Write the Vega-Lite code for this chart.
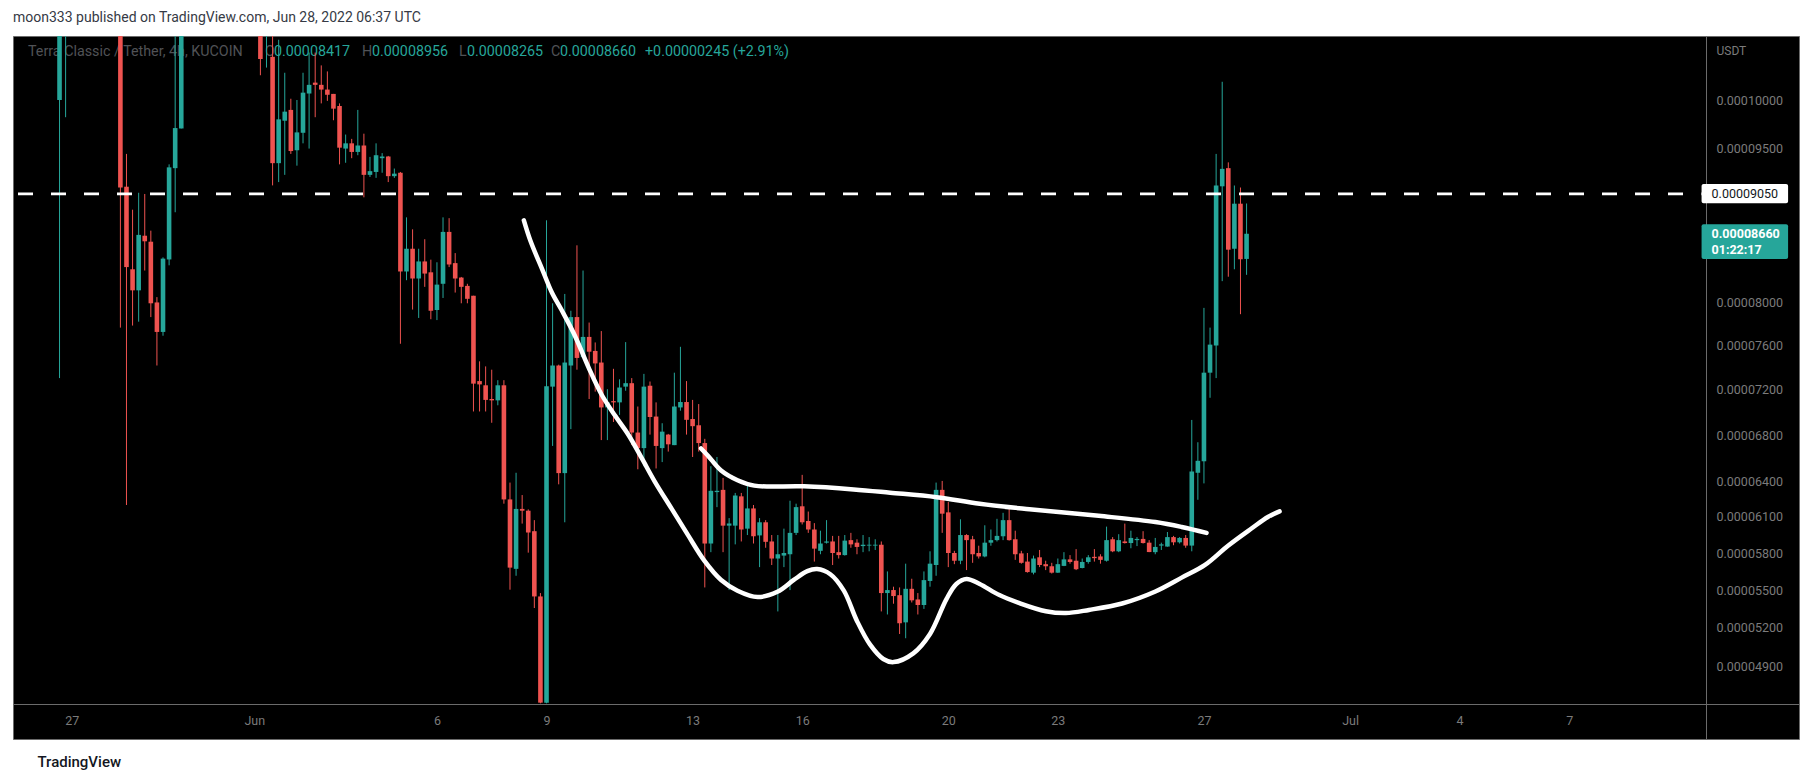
{
  "$schema": "https://vega.github.io/schema/vega-lite/v6.json",
  "width": 1786,
  "height": 703,
  "autosize": {"type": "none"},
  "padding": {"left": 13, "top": 36, "right": 14, "bottom": 44},
  "background": "#ffffff",
  "title": {
    "text": "moon333 published on TradingView.com, Jun 28, 2022 06:37 UTC",
    "anchor": "start",
    "frame": "group",
    "offset": 11,
    "font": "Roboto",
    "fontSize": 14,
    "fontWeight": "normal",
    "color": "#363a45"
  },
  "data": {"values": [{}]},
  "datasets": {
    "candles": [
      {"t":"2022-05-26T16:00:00Z","o":0.0001,"h":0.000125,"l":0.00007307,"c":0.000115},
      {"t":"2022-05-26T20:00:00Z","o":0.00011,"h":0.00012,"l":0.00009823,"c":0.000118},
      {"t":"2022-05-28T08:00:00Z","o":0.000115,"h":0.00012,"l":0.00007769,"c":0.00009114},
      {"t":"2022-05-28T12:00:00Z","o":0.00009122,"h":0.0000945,"l":0.00006199,"c":0.00008339},
      {"t":"2022-05-28T16:00:00Z","o":0.00008318,"h":0.00008895,"l":0.00007788,"c":0.00008118},
      {"t":"2022-05-28T20:00:00Z","o":0.00008118,"h":0.00009062,"l":0.00007824,"c":0.00008649},
      {"t":"2022-05-29T00:00:00Z","o":0.00008641,"h":0.0000905,"l":0.00008306,"c":0.00008587},
      {"t":"2022-05-29T04:00:00Z","o":0.00008583,"h":0.0000869,"l":0.00007867,"c":0.00007996},
      {"t":"2022-05-29T08:00:00Z","o":0.00008004,"h":0.00008054,"l":0.00007421,"c":0.00007729},
      {"t":"2022-05-29T12:00:00Z","o":0.00007729,"h":0.00008432,"l":0.00007694,"c":0.0000842},
      {"t":"2022-05-29T16:00:00Z","o":0.00008412,"h":0.00009345,"l":0.00008356,"c":0.00009315},
      {"t":"2022-05-29T20:00:00Z","o":0.00009307,"h":0.000108,"l":0.0000887,"c":0.00009712},
      {"t":"2022-05-30T00:00:00Z","o":0.00009708,"h":0.000112,"l":0.00009708,"c":0.000108},
      {"t":"2022-06-01T04:00:00Z","o":0.000108,"h":0.00011,"l":0.00010257,"c":0.00010427},
      {"t":"2022-06-01T08:00:00Z","o":0.0001075,"h":0.000111,"l":0.00010337,"c":0.000109},
      {"t":"2022-06-01T12:00:00Z","o":0.0001045,"h":0.000107,"l":0.00009135,"c":0.00009357},
      {"t":"2022-06-01T16:00:00Z","o":0.00009357,"h":0.0001063,"l":0.00009168,"c":0.00009801},
      {"t":"2022-06-01T20:00:00Z","o":0.00009787,"h":0.00010283,"l":0.0000924,"c":0.0000988},
      {"t":"2022-06-02T00:00:00Z","o":0.00009898,"h":0.00010013,"l":0.0000945,"c":0.00009479},
      {"t":"2022-06-02T04:00:00Z","o":0.00009487,"h":0.0001,"l":0.00009332,"c":0.00009668},
      {"t":"2022-06-02T08:00:00Z","o":0.00009664,"h":0.00010283,"l":0.00009557,"c":0.00010076},
      {"t":"2022-06-02T12:00:00Z","o":0.00010067,"h":0.00010495,"l":0.00009504,"c":0.00010157},
      {"t":"2022-06-02T16:00:00Z","o":0.0001018,"h":0.00010495,"l":0.00009823,"c":0.00010157},
      {"t":"2022-06-02T20:00:00Z","o":0.00010157,"h":0.0001036,"l":0.00009965,"c":0.00010108},
      {"t":"2022-06-03T00:00:00Z","o":0.00010108,"h":0.00010297,"l":0.00009991,"c":0.00010054},
      {"t":"2022-06-03T04:00:00Z","o":0.00010063,"h":0.00010063,"l":0.00009792,"c":0.00009911},
      {"t":"2022-06-03T08:00:00Z","o":0.00009938,"h":0.00009965,"l":0.00009345,"c":0.00009513},
      {"t":"2022-06-03T12:00:00Z","o":0.00009504,"h":0.00009646,"l":0.00009361,"c":0.00009557},
      {"t":"2022-06-03T16:00:00Z","o":0.00009557,"h":0.00009602,"l":0.00009407,"c":0.0000947},
      {"t":"2022-06-03T20:00:00Z","o":0.0000947,"h":0.00009898,"l":0.00009437,"c":0.00009535},
      {"t":"2022-06-04T00:00:00Z","o":0.00009535,"h":0.00009655,"l":0.00009017,"c":0.0000924},
      {"t":"2022-06-04T04:00:00Z","o":0.0000924,"h":0.0000942,"l":0.00009219,"c":0.00009277},
      {"t":"2022-06-04T08:00:00Z","o":0.00009269,"h":0.00009557,"l":0.0000921,"c":0.00009437},
      {"t":"2022-06-04T12:00:00Z","o":0.00009407,"h":0.00009458,"l":0.00009261,"c":0.00009424},
      {"t":"2022-06-04T16:00:00Z","o":0.00009424,"h":0.0000943,"l":0.00009168,"c":0.00009227},
      {"t":"2022-06-04T20:00:00Z","o":0.00009227,"h":0.00009303,"l":0.0000921,"c":0.00009252},
      {"t":"2022-06-05T00:00:00Z","o":0.00009261,"h":0.00009269,"l":0.0000762,"c":0.00008297},
      {"t":"2022-06-05T04:00:00Z","o":0.00008297,"h":0.0000882,"l":0.00008214,"c":0.00008515},
      {"t":"2022-06-05T08:00:00Z","o":0.00008515,"h":0.00008703,"l":0.00007937,"c":0.0000823},
      {"t":"2022-06-05T12:00:00Z","o":0.0000823,"h":0.00008515,"l":0.00007859,"c":0.00008393},
      {"t":"2022-06-05T16:00:00Z","o":0.00008393,"h":0.00008607,"l":0.00008151,"c":0.00008277},
      {"t":"2022-06-05T20:00:00Z","o":0.00008289,"h":0.0000841,"l":0.00007847,"c":0.00007926},
      {"t":"2022-06-06T00:00:00Z","o":0.00007933,"h":0.00008385,"l":0.00007839,"c":0.00008172},
      {"t":"2022-06-06T04:00:00Z","o":0.0000818,"h":0.0000882,"l":0.00008046,"c":0.00008678},
      {"t":"2022-06-06T08:00:00Z","o":0.00008678,"h":0.00008812,"l":0.00008339,"c":0.00008364},
      {"t":"2022-06-06T12:00:00Z","o":0.00008377,"h":0.00008473,"l":0.00008097,"c":0.0000823},
      {"t":"2022-06-06T16:00:00Z","o":0.00008239,"h":0.00008245,"l":0.00007996,"c":0.00008151},
      {"t":"2022-06-06T20:00:00Z","o":0.0000816,"h":0.0000818,"l":0.00007996,"c":0.00008038},
      {"t":"2022-06-07T00:00:00Z","o":0.00008067,"h":0.00008067,"l":0.00007008,"c":0.00007257},
      {"t":"2022-06-07T04:00:00Z","o":0.0000728,"h":0.00007459,"l":0.00007008,"c":0.0000725},
      {"t":"2022-06-07T08:00:00Z","o":0.00007242,"h":0.00007413,"l":0.00007008,"c":0.00007111},
      {"t":"2022-06-07T12:00:00Z","o":0.00007119,"h":0.00007383,"l":0.00006908,"c":0.00007107},
      {"t":"2022-06-07T16:00:00Z","o":0.00007107,"h":0.00007288,"l":0.00007063,"c":0.00007242},
      {"t":"2022-06-07T20:00:00Z","o":0.00007242,"h":0.00007288,"l":0.0000621,"c":0.00006246},
      {"t":"2022-06-08T00:00:00Z","o":0.00006246,"h":0.00006389,"l":0.00005503,"c":0.00005681},
      {"t":"2022-06-08T04:00:00Z","o":0.00005671,"h":0.00006473,"l":0.00005615,"c":0.00006166},
      {"t":"2022-06-08T08:00:00Z","o":0.00006166,"h":0.00006283,"l":0.00006043,"c":0.00006151},
      {"t":"2022-06-08T12:00:00Z","o":0.00006151,"h":0.00006162,"l":0.00005803,"c":0.00005969},
      {"t":"2022-06-08T16:00:00Z","o":0.0000598,"h":0.00006072,"l":0.00005357,"c":0.00005449},
      {"t":"2022-06-08T20:00:00Z","o":0.00005449,"h":0.00005476,"l":0.00004625,"c":0.0000463},
      {"t":"2022-06-09T00:00:00Z","o":0.0000463,"h":0.00008791,"l":0.00004625,"c":0.00007234},
      {"t":"2022-06-09T04:00:00Z","o":0.0000723,"h":0.00007996,"l":0.00006705,"c":0.00007421},
      {"t":"2022-06-09T08:00:00Z","o":0.00007421,"h":0.00007429,"l":0.00006374,"c":0.0000647},
      {"t":"2022-06-09T12:00:00Z","o":0.0000647,"h":0.00008084,"l":0.00006054,"c":0.00007448},
      {"t":"2022-06-09T16:00:00Z","o":0.00007421,"h":0.00007926,"l":0.00006852,"c":0.00007867},
      {"t":"2022-06-09T20:00:00Z","o":0.00007867,"h":0.00008548,"l":0.00007383,"c":0.0000749},
      {"t":"2022-06-10T00:00:00Z","o":0.00007497,"h":0.00008306,"l":0.0000749,"c":0.00007683},
      {"t":"2022-06-10T04:00:00Z","o":0.00007683,"h":0.00007816,"l":0.00007119,"c":0.00007547},
      {"t":"2022-06-10T08:00:00Z","o":0.00007554,"h":0.00007632,"l":0.00007185,"c":0.0000744},
      {"t":"2022-06-10T12:00:00Z","o":0.00007448,"h":0.00007737,"l":0.00006756,"c":0.00007044},
      {"t":"2022-06-10T16:00:00Z","o":0.00007044,"h":0.00007207,"l":0.00006756,"c":0.00007089},
      {"t":"2022-06-10T20:00:00Z","o":0.000071,"h":0.00007391,"l":0.00006915,"c":0.00007089},
      {"t":"2022-06-11T00:00:00Z","o":0.00007089,"h":0.00007296,"l":0.00006978,"c":0.00007222},
      {"t":"2022-06-11T04:00:00Z","o":0.0000723,"h":0.00007635,"l":0.00007193,"c":0.00007261},
      {"t":"2022-06-11T08:00:00Z","o":0.00007261,"h":0.00007307,"l":0.00006712,"c":0.00006822},
      {"t":"2022-06-11T12:00:00Z","o":0.00006822,"h":0.00007052,"l":0.00006503,"c":0.00006686},
      {"t":"2022-06-11T16:00:00Z","o":0.00006686,"h":0.00007345,"l":0.00006529,"c":0.0000723},
      {"t":"2022-06-11T20:00:00Z","o":0.00007238,"h":0.00007276,"l":0.00006804,"c":0.00006959},
      {"t":"2022-06-12T00:00:00Z","o":0.00006963,"h":0.00007089,"l":0.0000651,"c":0.00006705},
      {"t":"2022-06-12T04:00:00Z","o":0.00006686,"h":0.00006904,"l":0.00006565,"c":0.0000683},
      {"t":"2022-06-12T08:00:00Z","o":0.00006804,"h":0.0000681,"l":0.00006656,"c":0.00006719},
      {"t":"2022-06-12T12:00:00Z","o":0.00006712,"h":0.00007356,"l":0.00006712,"c":0.00007052},
      {"t":"2022-06-12T16:00:00Z","o":0.00007044,"h":0.00007592,"l":0.00007015,"c":0.00007092},
      {"t":"2022-06-12T20:00:00Z","o":0.00007092,"h":0.0000728,"l":0.00006804,"c":0.00006934},
      {"t":"2022-06-13T00:00:00Z","o":0.00006941,"h":0.00007111,"l":0.00006609,"c":0.00006878},
      {"t":"2022-06-13T04:00:00Z","o":0.00006886,"h":0.00007074,"l":0.00006656,"c":0.0000673},
      {"t":"2022-06-13T08:00:00Z","o":0.0000673,"h":0.00006767,"l":0.00005521,"c":0.00005878},
      {"t":"2022-06-13T12:00:00Z","o":0.00005878,"h":0.00006529,"l":0.00005807,"c":0.00006319},
      {"t":"2022-06-13T16:00:00Z","o":0.00006308,"h":0.00006609,"l":0.00006181,"c":0.00006319},
      {"t":"2022-06-13T20:00:00Z","o":0.00006327,"h":0.00006429,"l":0.00005807,"c":0.00006026},
      {"t":"2022-06-14T00:00:00Z","o":0.00006026,"h":0.00006089,"l":0.000055,"c":0.00006044},
      {"t":"2022-06-14T04:00:00Z","o":0.00006026,"h":0.00006301,"l":0.00005871,"c":0.00006279},
      {"t":"2022-06-14T08:00:00Z","o":0.00006272,"h":0.00006301,"l":0.00005895,"c":0.00005994},
      {"t":"2022-06-14T12:00:00Z","o":0.00006001,"h":0.00006392,"l":0.00005948,"c":0.0000617},
      {"t":"2022-06-14T16:00:00Z","o":0.0000617,"h":0.00006199,"l":0.00005878,"c":0.00005938},
      {"t":"2022-06-14T20:00:00Z","o":0.00005945,"h":0.00006089,"l":0.00005685,"c":0.00006054},
      {"t":"2022-06-15T00:00:00Z","o":0.00006054,"h":0.00006072,"l":0.00005843,"c":0.00005892},
      {"t":"2022-06-15T04:00:00Z","o":0.00005895,"h":0.00005948,"l":0.00005702,"c":0.00005755},
      {"t":"2022-06-15T08:00:00Z","o":0.00005755,"h":0.00005948,"l":0.0000533,"c":0.0000579},
      {"t":"2022-06-15T12:00:00Z","o":0.00005779,"h":0.00006001,"l":0.00005685,"c":0.000058},
      {"t":"2022-06-15T16:00:00Z","o":0.0000579,"h":0.00006235,"l":0.000055,"c":0.00005966},
      {"t":"2022-06-15T20:00:00Z","o":0.00005966,"h":0.0000621,"l":0.00005948,"c":0.00006181},
      {"t":"2022-06-16T00:00:00Z","o":0.00006188,"h":0.00006455,"l":0.00006036,"c":0.00006054},
      {"t":"2022-06-16T04:00:00Z","o":0.00006065,"h":0.00006144,"l":0.00005966,"c":0.00005994},
      {"t":"2022-06-16T08:00:00Z","o":0.00005994,"h":0.00006047,"l":0.0000573,"c":0.00005836},
      {"t":"2022-06-16T12:00:00Z","o":0.00005818,"h":0.00005984,"l":0.0000579,"c":0.00005878},
      {"t":"2022-06-16T16:00:00Z","o":0.00005885,"h":0.00006072,"l":0.00005878,"c":0.00005895},
      {"t":"2022-06-16T20:00:00Z","o":0.00005895,"h":0.00005941,"l":0.00005702,"c":0.000058},
      {"t":"2022-06-17T00:00:00Z","o":0.00005807,"h":0.00005941,"l":0.00005755,"c":0.00005783},
      {"t":"2022-06-17T04:00:00Z","o":0.00005783,"h":0.00005948,"l":0.00005779,"c":0.00005902},
      {"t":"2022-06-17T08:00:00Z","o":0.00005906,"h":0.00005966,"l":0.00005843,"c":0.00005871},
      {"t":"2022-06-17T12:00:00Z","o":0.00005885,"h":0.00005913,"l":0.0000579,"c":0.0000585},
      {"t":"2022-06-17T16:00:00Z","o":0.00005857,"h":0.00005948,"l":0.00005807,"c":0.00005868},
      {"t":"2022-06-17T20:00:00Z","o":0.00005861,"h":0.00005931,"l":0.00005814,"c":0.00005868},
      {"t":"2022-06-18T00:00:00Z","o":0.00005861,"h":0.00005913,"l":0.00005825,"c":0.00005868},
      {"t":"2022-06-18T04:00:00Z","o":0.00005868,"h":0.00005895,"l":0.0000533,"c":0.00005476},
      {"t":"2022-06-18T08:00:00Z","o":0.00005476,"h":0.0000565,"l":0.00005306,"c":0.000055},
      {"t":"2022-06-18T12:00:00Z","o":0.000055,"h":0.00005527,"l":0.00005391,"c":0.00005452},
      {"t":"2022-06-18T16:00:00Z","o":0.00005459,"h":0.00005521,"l":0.00005153,"c":0.00005237},
      {"t":"2022-06-18T20:00:00Z","o":0.00005244,"h":0.00005713,"l":0.0000512,"c":0.0000551},
      {"t":"2022-06-19T00:00:00Z","o":0.0000551,"h":0.00005591,"l":0.00005401,"c":0.00005418},
      {"t":"2022-06-19T04:00:00Z","o":0.00005425,"h":0.00005476,"l":0.00005306,"c":0.00005381},
      {"t":"2022-06-19T08:00:00Z","o":0.00005381,"h":0.0000565,"l":0.0000535,"c":0.0000558},
      {"t":"2022-06-19T12:00:00Z","o":0.00005573,"h":0.00005814,"l":0.00005527,"c":0.00005713},
      {"t":"2022-06-19T16:00:00Z","o":0.00005702,"h":0.00006389,"l":0.00005615,"c":0.00006327},
      {"t":"2022-06-19T20:00:00Z","o":0.00006327,"h":0.00006403,"l":0.00005966,"c":0.00006126},
      {"t":"2022-06-20T00:00:00Z","o":0.00006137,"h":0.00006224,"l":0.00005685,"c":0.000058},
      {"t":"2022-06-20T04:00:00Z","o":0.000058,"h":0.00005818,"l":0.00005709,"c":0.00005737},
      {"t":"2022-06-20T08:00:00Z","o":0.00005737,"h":0.00006079,"l":0.00005709,"c":0.00005948},
      {"t":"2022-06-20T12:00:00Z","o":0.00005948,"h":0.00005955,"l":0.00005661,"c":0.00005906},
      {"t":"2022-06-20T16:00:00Z","o":0.00005913,"h":0.00005941,"l":0.0000572,"c":0.0000579},
      {"t":"2022-06-20T20:00:00Z","o":0.000058,"h":0.0000586,"l":0.00005755,"c":0.00005772},
      {"t":"2022-06-21T00:00:00Z","o":0.00005772,"h":0.00006029,"l":0.00005765,"c":0.00005885},
      {"t":"2022-06-21T04:00:00Z","o":0.00005885,"h":0.00005994,"l":0.0000586,"c":0.00005906},
      {"t":"2022-06-21T08:00:00Z","o":0.00005906,"h":0.00006083,"l":0.00005895,"c":0.00005941},
      {"t":"2022-06-21T12:00:00Z","o":0.00005938,"h":0.00006133,"l":0.00005906,"c":0.00006072},
      {"t":"2022-06-21T16:00:00Z","o":0.00006072,"h":0.00006173,"l":0.00005902,"c":0.00005906},
      {"t":"2022-06-21T20:00:00Z","o":0.00005913,"h":0.00005984,"l":0.00005744,"c":0.0000579},
      {"t":"2022-06-22T00:00:00Z","o":0.00005797,"h":0.00005818,"l":0.00005713,"c":0.0000572},
      {"t":"2022-06-22T04:00:00Z","o":0.0000573,"h":0.000058,"l":0.0000564,"c":0.00005645},
      {"t":"2022-06-22T08:00:00Z","o":0.0000564,"h":0.00005779,"l":0.00005626,"c":0.00005755},
      {"t":"2022-06-22T12:00:00Z","o":0.00005765,"h":0.00005825,"l":0.00005685,"c":0.00005702},
      {"t":"2022-06-22T16:00:00Z","o":0.00005709,"h":0.00005737,"l":0.00005661,"c":0.00005692},
      {"t":"2022-06-22T20:00:00Z","o":0.00005692,"h":0.0000572,"l":0.00005633,"c":0.0000564},
      {"t":"2022-06-23T00:00:00Z","o":0.0000564,"h":0.00005755,"l":0.00005638,"c":0.00005709},
      {"t":"2022-06-23T04:00:00Z","o":0.00005695,"h":0.00005807,"l":0.00005693,"c":0.00005748},
      {"t":"2022-06-23T08:00:00Z","o":0.00005748,"h":0.00005783,"l":0.00005713,"c":0.00005727},
      {"t":"2022-06-23T12:00:00Z","o":0.00005737,"h":0.00005832,"l":0.00005661,"c":0.00005668},
      {"t":"2022-06-23T16:00:00Z","o":0.00005678,"h":0.00005755,"l":0.00005675,"c":0.00005727},
      {"t":"2022-06-23T20:00:00Z","o":0.00005727,"h":0.00005783,"l":0.00005713,"c":0.00005765},
      {"t":"2022-06-24T00:00:00Z","o":0.00005769,"h":0.00005832,"l":0.0000573,"c":0.00005758},
      {"t":"2022-06-24T04:00:00Z","o":0.00005772,"h":0.0000579,"l":0.00005713,"c":0.00005744},
      {"t":"2022-06-24T08:00:00Z","o":0.00005737,"h":0.00006018,"l":0.0000573,"c":0.00005906},
      {"t":"2022-06-24T12:00:00Z","o":0.00005913,"h":0.00005931,"l":0.00005807,"c":0.00005814},
      {"t":"2022-06-24T16:00:00Z","o":0.00005814,"h":0.00005955,"l":0.00005807,"c":0.00005906},
      {"t":"2022-06-24T20:00:00Z","o":0.00005895,"h":0.00006043,"l":0.00005878,"c":0.00005882},
      {"t":"2022-06-25T00:00:00Z","o":0.00005882,"h":0.00005984,"l":0.00005839,"c":0.00005924},
      {"t":"2022-06-25T04:00:00Z","o":0.00005906,"h":0.00005931,"l":0.00005857,"c":0.00005916},
      {"t":"2022-06-25T08:00:00Z","o":0.00005916,"h":0.0000598,"l":0.00005878,"c":0.00005882},
      {"t":"2022-06-25T12:00:00Z","o":0.00005885,"h":0.00005906,"l":0.00005807,"c":0.00005808},
      {"t":"2022-06-25T16:00:00Z","o":0.00005807,"h":0.00005924,"l":0.0000579,"c":0.0000585},
      {"t":"2022-06-25T20:00:00Z","o":0.00005861,"h":0.00005885,"l":0.00005825,"c":0.00005871},
      {"t":"2022-06-26T00:00:00Z","o":0.00005853,"h":0.00005973,"l":0.00005852,"c":0.00005931},
      {"t":"2022-06-26T04:00:00Z","o":0.00005931,"h":0.00005941,"l":0.00005864,"c":0.00005888},
      {"t":"2022-06-26T08:00:00Z","o":0.00005888,"h":0.00005931,"l":0.00005878,"c":0.00005924},
      {"t":"2022-06-26T12:00:00Z","o":0.00005924,"h":0.00005948,"l":0.00005843,"c":0.00005861},
      {"t":"2022-06-26T16:00:00Z","o":0.00005861,"h":0.00006933,"l":0.00005814,"c":0.00006484},
      {"t":"2022-06-26T20:00:00Z","o":0.00006473,"h":0.00006737,"l":0.00006243,"c":0.00006576},
      {"t":"2022-06-27T00:00:00Z","o":0.00006572,"h":0.00007953,"l":0.00006382,"c":0.00007356},
      {"t":"2022-06-27T04:00:00Z","o":0.00007356,"h":0.00007769,"l":0.0000713,"c":0.00007612},
      {"t":"2022-06-27T08:00:00Z","o":0.00007604,"h":0.0000945,"l":0.00007307,"c":0.00009134},
      {"t":"2022-06-27T12:00:00Z","o":0.00009126,"h":0.00010189,"l":0.00008205,"c":0.000093},
      {"t":"2022-06-27T16:00:00Z","o":0.00009307,"h":0.00009365,"l":0.00008247,"c":0.00008506},
      {"t":"2022-06-27T20:00:00Z","o":0.00008515,"h":0.00009134,"l":0.00008318,"c":0.00008954},
      {"t":"2022-06-28T00:00:00Z","o":0.00008954,"h":0.00009114,"l":0.00007894,"c":0.00008414},
      {"t":"2022-06-28T04:00:00Z","o":0.00008417,"h":0.00008956,"l":0.00008265,"c":0.0000866}
    ],
    "cup": [
      {"t":"2022-06-08T09:07:00Z","p":0.00008791},
      {"t":"2022-06-08T13:26:00Z","p":0.00008592},
      {"t":"2022-06-08T21:07:00Z","p":0.00008319},
      {"t":"2022-06-09T03:36:00Z","p":0.00008095},
      {"t":"2022-06-09T10:05:00Z","p":0.00007928},
      {"t":"2022-06-09T18:43:00Z","p":0.00007692},
      {"t":"2022-06-10T03:36:00Z","p":0.00007404},
      {"t":"2022-06-10T12:14:00Z","p":0.00007157},
      {"t":"2022-06-10T20:53:00Z","p":0.00006974},
      {"t":"2022-06-11T05:46:00Z","p":0.00006803},
      {"t":"2022-06-11T14:24:00Z","p":0.00006603},
      {"t":"2022-06-11T23:02:00Z","p":0.000064},
      {"t":"2022-06-12T10:05:00Z","p":0.0000617},
      {"t":"2022-06-12T20:53:00Z","p":0.00005949},
      {"t":"2022-06-13T07:41:00Z","p":0.00005738},
      {"t":"2022-06-13T18:43:00Z","p":0.00005581},
      {"t":"2022-06-14T05:31:00Z","p":0.00005495},
      {"t":"2022-06-14T18:43:00Z","p":0.00005444},
      {"t":"2022-06-15T07:41:00Z","p":0.00005486},
      {"t":"2022-06-15T18:29:00Z","p":0.00005581},
      {"t":"2022-06-16T03:22:00Z","p":0.00005652},
      {"t":"2022-06-16T09:50:00Z","p":0.00005669},
      {"t":"2022-06-16T18:29:00Z","p":0.00005627},
      {"t":"2022-06-17T03:22:00Z","p":0.00005495},
      {"t":"2022-06-17T12:00:00Z","p":0.00005255},
      {"t":"2022-06-17T20:38:00Z","p":0.0000507},
      {"t":"2022-06-18T05:17:00Z","p":0.0000496},
      {"t":"2022-06-18T12:00:00Z","p":0.00004936},
      {"t":"2022-06-19T01:00:00Z","p":0.00005003},
      {"t":"2022-06-19T12:00:00Z","p":0.00005153},
      {"t":"2022-06-19T22:48:00Z","p":0.00005428},
      {"t":"2022-06-20T05:17:00Z","p":0.00005549},
      {"t":"2022-06-20T12:00:00Z","p":0.00005589},
      {"t":"2022-06-20T20:38:00Z","p":0.00005549},
      {"t":"2022-06-21T09:36:00Z","p":0.0000546},
      {"t":"2022-06-21T22:48:00Z","p":0.00005396},
      {"t":"2022-06-22T16:05:00Z","p":0.00005332},
      {"t":"2022-06-23T05:17:00Z","p":0.00005317},
      {"t":"2022-06-23T20:24:00Z","p":0.00005342},
      {"t":"2022-06-24T18:14:00Z","p":0.00005393},
      {"t":"2022-06-25T16:05:00Z","p":0.00005489},
      {"t":"2022-06-26T09:22:00Z","p":0.000056},
      {"t":"2022-06-27T00:43:00Z","p":0.00005703},
      {"t":"2022-06-27T15:50:00Z","p":0.0000586},
      {"t":"2022-06-28T07:12:00Z","p":0.00006002},
      {"t":"2022-06-28T18:00:00Z","p":0.00006098},
      {"t":"2022-06-29T01:41:00Z","p":0.00006145}
    ],
    "handle": [
      {"t":"2022-06-13T05:31:00Z","p":0.00006683},
      {"t":"2022-06-13T10:05:00Z","p":0.0000662},
      {"t":"2022-06-13T18:43:00Z","p":0.00006492},
      {"t":"2022-06-14T05:31:00Z","p":0.00006409},
      {"t":"2022-06-14T16:34:00Z","p":0.00006363},
      {"t":"2022-06-16T01:12:00Z","p":0.00006357},
      {"t":"2022-06-17T09:50:00Z","p":0.00006331},
      {"t":"2022-06-18T09:50:00Z","p":0.00006303},
      {"t":"2022-06-19T16:19:00Z","p":0.00006265},
      {"t":"2022-06-20T20:38:00Z","p":0.00006209},
      {"t":"2022-06-22T05:17:00Z","p":0.00006163},
      {"t":"2022-06-24T02:53:00Z","p":0.00006108},
      {"t":"2022-06-25T16:05:00Z","p":0.00006056},
      {"t":"2022-06-26T09:22:00Z","p":0.00006015},
      {"t":"2022-06-27T01:41:00Z","p":0.00005966}
    ]
  },
  "layer": [
    {
      "data": {"name": "candles"},
      "mark": {"type": "rule", "strokeWidth": 0, "opacity": 0, "clip": true},
      "encoding": {
        "x": {
          "field": "t",
          "type": "temporal",
          "scale": {
            "type": "utc",
            "domain": [
              {"year": 2022, "month": 5, "date": 25, "hours": 12, "minutes": 43, "utc": true},
              {"year": 2022, "month": 7, "date": 13, "hours": 3, "minutes": 43, "utc": true}
            ]
          },
          "axis": {
            "orient": "bottom",
            "offset": -35,
            "values": [
              {"year": 2022, "month": 5, "date": 27, "utc": true},
              {"year": 2022, "month": 6, "date": 1, "utc": true},
              {"year": 2022, "month": 6, "date": 6, "utc": true},
              {"year": 2022, "month": 6, "date": 9, "utc": true},
              {"year": 2022, "month": 6, "date": 13, "utc": true},
              {"year": 2022, "month": 6, "date": 16, "utc": true},
              {"year": 2022, "month": 6, "date": 20, "utc": true},
              {"year": 2022, "month": 6, "date": 23, "utc": true},
              {"year": 2022, "month": 6, "date": 27, "utc": true},
              {"year": 2022, "month": 7, "date": 1, "utc": true},
              {"year": 2022, "month": 7, "date": 4, "utc": true},
              {"year": 2022, "month": 7, "date": 7, "utc": true}
            ],
            "labelExpr": "utcdate(datum.value) == 1 ? utcFormat(datum.value, '%b') : utcFormat(datum.value, '%-d')",
            "ticks": false,
            "grid": false,
            "labelPadding": 10,
            "labelFlush": false,
            "labelOverlap": false,
            "labelColor": "#7b7b7b",
            "labelFont": "Roboto",
            "labelFontSize": 12.5,
            "domainColor": "#6b6b6b",
            "domainWidth": 1,
            "title": "TradingView",
            "titleAnchor": "start",
            "titleAlign": "left",
            "titleBaseline": "middle",
            "titleX": 24,
            "titleY": 57,
            "titleColor": "#131722",
            "titleFont": "Roboto",
            "titleFontSize": 15,
            "titleFontWeight": 500
          }
        },
        "y": {
          "field": "l",
          "type": "quantitative",
          "scale": {"type": "pow", "exponent": 0.575, "domain": [0.00004363, 0.0001067], "nice": false, "zero": false},
          "axis": {
            "orient": "right",
            "offset": -93,
            "values": [0.0001, 0.000095, 0.00008, 0.000076, 0.000072, 0.000068, 0.000064, 0.000061, 0.000058, 0.000055, 0.000052, 0.000049],
            "format": ".8f",
            "ticks": false,
            "grid": false,
            "labelAlign": "left",
            "labelPadding": 10,
            "labelOverlap": false,
            "labelFlush": false,
            "labelColor": "#7b7b7b",
            "labelFont": "Roboto",
            "labelFontSize": 12.5,
            "domainColor": "#6b6b6b",
            "domainWidth": 1,
            "title": "USDT",
            "titleAngle": 0,
            "titleAlign": "left",
            "titleBaseline": "middle",
            "titleX": 10,
            "titleY": 14,
            "titleColor": "#7b7b7b",
            "titleFont": "Roboto",
            "titleFontSize": 12,
            "titleFontWeight": "normal"
          }
        },
        "y2": {"field": "h"}
      }
    },
    {
      "mark": {"type": "text", "text": "Terra Classic / Tether, 4h, KUCOIN", "align": "left", "baseline": "middle", "dx": 10, "font": "Roboto", "fontSize": 14.3, "color": "#505256"},
      "encoding": {
        "x": {"datum": {"year": 2022, "month": 5, "date": 25, "hours": 12, "minutes": 43, "utc": true}, "type": "temporal"},
        "y": {"datum": 0.000105, "type": "quantitative"}
      }
    },
    {
      "mark": {"type": "text", "text": "O", "align": "left", "baseline": "middle", "dx": 247, "font": "Roboto", "fontSize": 14.3, "color": "#505256"},
      "encoding": {
        "x": {"datum": {"year": 2022, "month": 5, "date": 25, "hours": 12, "minutes": 43, "utc": true}, "type": "temporal"},
        "y": {"datum": 0.000105, "type": "quantitative"}
      }
    },
    {
      "mark": {"type": "text", "text": "0.00008417", "align": "left", "baseline": "middle", "dx": 256, "font": "Roboto", "fontSize": 14.3, "color": "#26a69a"},
      "encoding": {
        "x": {"datum": {"year": 2022, "month": 5, "date": 25, "hours": 12, "minutes": 43, "utc": true}, "type": "temporal"},
        "y": {"datum": 0.000105, "type": "quantitative"}
      }
    },
    {
      "mark": {"type": "text", "text": "H", "align": "left", "baseline": "middle", "dx": 344, "font": "Roboto", "fontSize": 14.3, "color": "#505256"},
      "encoding": {
        "x": {"datum": {"year": 2022, "month": 5, "date": 25, "hours": 12, "minutes": 43, "utc": true}, "type": "temporal"},
        "y": {"datum": 0.000105, "type": "quantitative"}
      }
    },
    {
      "mark": {"type": "text", "text": "0.00008956", "align": "left", "baseline": "middle", "dx": 354, "font": "Roboto", "fontSize": 14.3, "color": "#26a69a"},
      "encoding": {
        "x": {"datum": {"year": 2022, "month": 5, "date": 25, "hours": 12, "minutes": 43, "utc": true}, "type": "temporal"},
        "y": {"datum": 0.000105, "type": "quantitative"}
      }
    },
    {
      "mark": {"type": "text", "text": "L", "align": "left", "baseline": "middle", "dx": 441, "font": "Roboto", "fontSize": 14.3, "color": "#505256"},
      "encoding": {
        "x": {"datum": {"year": 2022, "month": 5, "date": 25, "hours": 12, "minutes": 43, "utc": true}, "type": "temporal"},
        "y": {"datum": 0.000105, "type": "quantitative"}
      }
    },
    {
      "mark": {"type": "text", "text": "0.00008265", "align": "left", "baseline": "middle", "dx": 449, "font": "Roboto", "fontSize": 14.3, "color": "#26a69a"},
      "encoding": {
        "x": {"datum": {"year": 2022, "month": 5, "date": 25, "hours": 12, "minutes": 43, "utc": true}, "type": "temporal"},
        "y": {"datum": 0.000105, "type": "quantitative"}
      }
    },
    {
      "mark": {"type": "text", "text": "C", "align": "left", "baseline": "middle", "dx": 533, "font": "Roboto", "fontSize": 14.3, "color": "#505256"},
      "encoding": {
        "x": {"datum": {"year": 2022, "month": 5, "date": 25, "hours": 12, "minutes": 43, "utc": true}, "type": "temporal"},
        "y": {"datum": 0.000105, "type": "quantitative"}
      }
    },
    {
      "mark": {"type": "text", "text": "0.00008660", "align": "left", "baseline": "middle", "dx": 542, "font": "Roboto", "fontSize": 14.3, "color": "#26a69a"},
      "encoding": {
        "x": {"datum": {"year": 2022, "month": 5, "date": 25, "hours": 12, "minutes": 43, "utc": true}, "type": "temporal"},
        "y": {"datum": 0.000105, "type": "quantitative"}
      }
    },
    {
      "mark": {"type": "text", "text": "+0.00000245 (+2.91%)", "align": "left", "baseline": "middle", "dx": 627, "font": "Roboto", "fontSize": 14.3, "color": "#26a69a"},
      "encoding": {
        "x": {"datum": {"year": 2022, "month": 5, "date": 25, "hours": 12, "minutes": 43, "utc": true}, "type": "temporal"},
        "y": {"datum": 0.000105, "type": "quantitative"}
      }
    },
    {
      "data": {"name": "candles"},
      "mark": {"type": "rule", "strokeWidth": 1, "clip": true},
      "encoding": {
        "x": {"field": "t", "type": "temporal"},
        "y": {"field": "l", "type": "quantitative"},
        "y2": {"field": "h"},
        "color": {"condition": {"test": "datum.c >= datum.o", "value": "#26a69a"}, "value": "#ef5350"}
      }
    },
    {
      "data": {"name": "candles"},
      "mark": {"type": "bar", "width": 4.6, "clip": true},
      "encoding": {
        "x": {"field": "t", "type": "temporal"},
        "y": {"field": "o", "type": "quantitative"},
        "y2": {"field": "c"},
        "color": {"condition": {"test": "datum.c >= datum.o", "value": "#26a69a"}, "value": "#ef5350"}
      }
    },
    {
      "data": {"name": "cup"},
      "mark": {"type": "line", "color": "#ffffff", "strokeWidth": 4.5, "strokeCap": "round", "interpolate": "catmull-rom"},
      "encoding": {
        "x": {"field": "t", "type": "temporal"},
        "y": {"field": "p", "type": "quantitative"}
      }
    },
    {
      "data": {"name": "handle"},
      "mark": {"type": "line", "color": "#ffffff", "strokeWidth": 4.5, "strokeCap": "round", "interpolate": "catmull-rom"},
      "encoding": {
        "x": {"field": "t", "type": "temporal"},
        "y": {"field": "p", "type": "quantitative"}
      }
    },
    {
      "mark": {"type": "rule", "color": "#ffffff", "strokeWidth": 2.8, "strokeDash": [15, 18]},
      "encoding": {
        "x": {"datum": {"year": 2022, "month": 5, "date": 25, "hours": 12, "minutes": 43, "utc": true}, "type": "temporal"},
        "x2": {"datum": {"year": 2022, "month": 7, "date": 10, "hours": 14, "minutes": 59, "utc": true}},
        "y": {"datum": 0.0000905, "type": "quantitative"}
      }
    },
    {
      "mark": {"type": "rect", "color": "#ffffff", "cornerRadius": 2},
      "encoding": {
        "x": {"datum": {"year": 2022, "month": 7, "date": 10, "hours": 14, "minutes": 59, "utc": true}, "type": "temporal"},
        "x2": {"datum": {"year": 2022, "month": 7, "date": 12, "hours": 23, "minutes": 50, "utc": true}},
        "y": {"datum": 0.00009149, "type": "quantitative"},
        "y2": {"datum": 0.00008958}
      }
    },
    {
      "mark": {"type": "rect", "color": "#26a69a", "cornerRadius": 2},
      "encoding": {
        "x": {"datum": {"year": 2022, "month": 7, "date": 10, "hours": 14, "minutes": 59, "utc": true}, "type": "temporal"},
        "x2": {"datum": {"year": 2022, "month": 7, "date": 12, "hours": 23, "minutes": 50, "utc": true}},
        "y": {"datum": 0.00008752, "type": "quantitative"},
        "y2": {"datum": 0.00008417}
      }
    },
    {
      "mark": {"type": "text", "text": "0.00009050", "align": "left", "baseline": "middle", "dx": 10, "font": "Roboto", "fontSize": 12.5, "color": "#131722"},
      "encoding": {
        "x": {"datum": {"year": 2022, "month": 7, "date": 10, "hours": 14, "minutes": 59, "utc": true}, "type": "temporal"},
        "y": {"datum": 0.0000905, "type": "quantitative"}
      }
    },
    {
      "mark": {"type": "text", "text": "0.00008660", "align": "left", "baseline": "middle", "dx": 10, "font": "Roboto", "fontSize": 12.5, "fontWeight": "bold", "color": "#ffffff"},
      "encoding": {
        "x": {"datum": {"year": 2022, "month": 7, "date": 10, "hours": 14, "minutes": 59, "utc": true}, "type": "temporal"},
        "y": {"datum": 0.0000866, "type": "quantitative"}
      }
    },
    {
      "mark": {"type": "text", "text": "01:22:17", "align": "left", "baseline": "middle", "dx": 10, "font": "Roboto", "fontSize": 12.5, "fontWeight": "bold", "color": "#ffffff"},
      "encoding": {
        "x": {"datum": {"year": 2022, "month": 7, "date": 10, "hours": 14, "minutes": 59, "utc": true}, "type": "temporal"},
        "y": {"datum": 0.00008503, "type": "quantitative"}
      }
    }
  ],
  "config": {
    "view": {"fill": "#000000", "stroke": "#6b6b6b", "strokeWidth": 1}
  }
}
